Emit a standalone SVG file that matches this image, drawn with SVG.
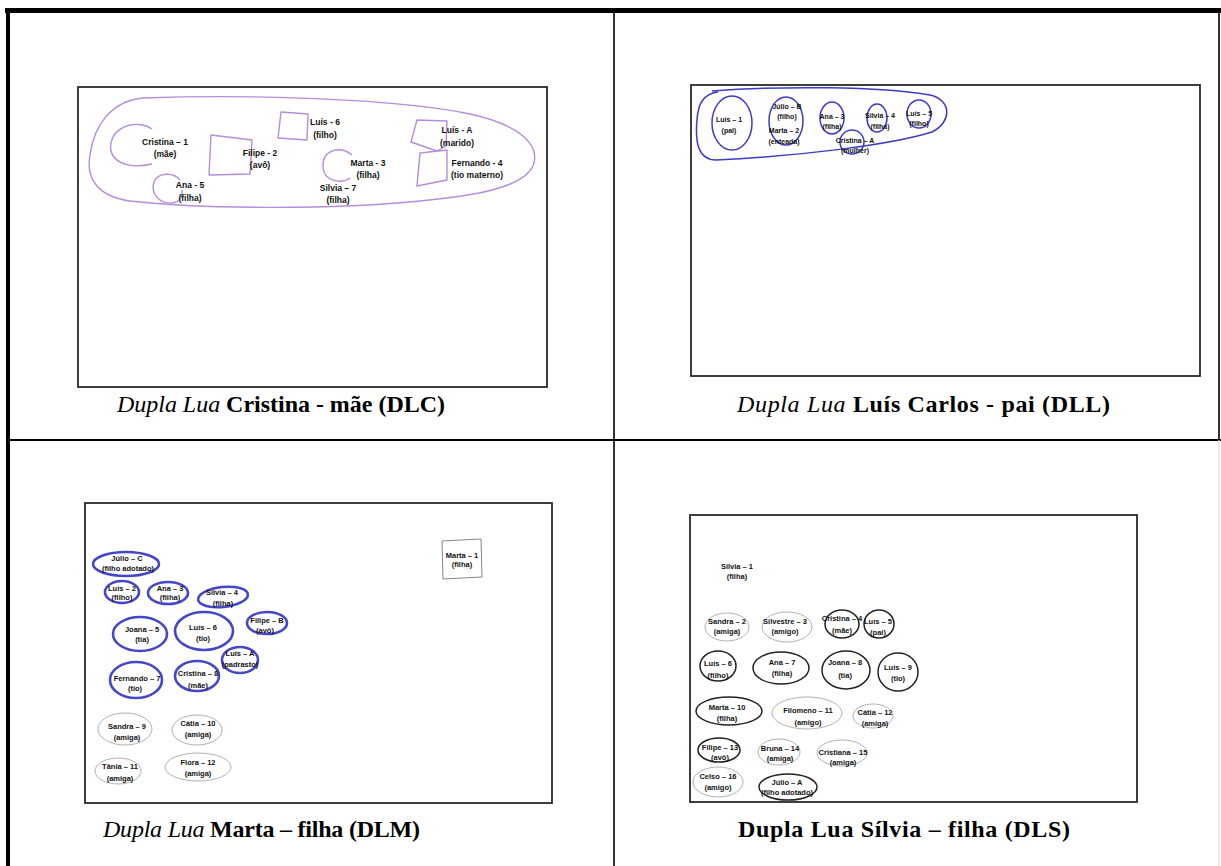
<svg xmlns="http://www.w3.org/2000/svg" width="1221" height="866" viewBox="0 0 1221 866">
<style>
.t{font-family:"Liberation Sans",Arial,sans-serif;font-weight:bold;fill:#111;text-anchor:middle}
.a{font-size:8.5px}
.b{font-size:7px}
.c{font-size:7.5px}
.frame{fill:none;stroke:#2a2a2a;stroke-width:1.8}
.lil{fill:none;stroke:#b48ddb;stroke-width:1.4;stroke-linejoin:round}
.blu{fill:none;stroke:#3c3cc8;stroke-width:1.5}
.blu2{fill:none;stroke:#4646c8;stroke-width:2.6}
.blk{fill:none;stroke:#222;stroke-width:1.5}
.gry{fill:none;stroke:#a8a8a8;stroke-width:0.9}
.cap{font-family:"Liberation Serif","Times New Roman",serif;font-size:24px;font-weight:bold;fill:#000}
.it{font-style:italic;font-weight:normal}
</style>
<rect width="1221" height="866" fill="#fff"/>
<g id="table">
<line x1="5" y1="10.5" x2="1221" y2="10.5" stroke="#000" stroke-width="5"/>
<line x1="8" y1="8" x2="8" y2="866" stroke="#000" stroke-width="4"/>
<line x1="614" y1="12" x2="614" y2="866" stroke="#000" stroke-width="1.6"/>
<line x1="8" y1="440" x2="1221" y2="440" stroke="#000" stroke-width="1.8"/>
<line x1="1219" y1="12" x2="1219" y2="440" stroke="#000" stroke-width="1.6"/>
<line x1="1219" y1="440" x2="1219" y2="866" stroke="#ddd" stroke-width="1.2"/>
</g>

<!-- Panel DLC -->
<g id="panel-dlc">
<rect class="frame" x="78" y="87" width="469" height="300"/>
<path class="lil" d="M142 98 C250 94 400 99 470 114 C520 125 541 145 533 166 C522 189 470 196 420 201 C330 210 200 209 130 201 C95 196 86 176 90 155 C94 126 110 102 142 98 Z"/>
<text class="cap" x="117" y="412" textLength="328"><tspan class="it">Dupla Lua</tspan> Cristina - mãe (DLC)</text>
</g>
<g id="dlc-cristina-1"><path class="lil" d="M152 129 C140 120 115 124 111 143 C108 160 125 170 152 164"/><text class="t a" x="165" y="145">Cristina – 1</text><text class="t a" x="165" y="157">(mãe)</text></g>
<g id="dlc-filipe-2"><path class="lil" d="M211 135 L252 140 L250 174 L209 175 Z"/><text class="t a" x="260" y="156">Filipe - 2</text><text class="t a" x="260" y="168">(avô)</text></g>
<g id="dlc-luis-6"><path class="lil" d="M281 112 L308 114 L307 140 L278 138 Z"/><text class="t a" x="325" y="125">Luís - 6</text><text class="t a" x="325" y="138">(filho)</text></g>
<g id="dlc-ana-5"><path class="lil" d="M180 180 C174 172 158 172 154 182 C150 194 160 204 172 203 C180 202 183 196 182 190"/><text class="t a" x="190" y="188">Ana - 5</text><text class="t a" x="190" y="201">(filha)</text></g>
<g id="dlc-marta-3"><path class="lil" d="M352 155 C340 145 322 150 323 167 C324 182 342 184 350 178"/><text class="t a" x="368" y="166">Marta - 3</text><text class="t a" x="368" y="178">(filha)</text></g>
<g id="dlc-silvia-7"><text class="t a" x="338" y="191">Silvia – 7</text><text class="t a" x="338" y="203">(filha)</text></g>
<g id="dlc-luis-a"><path class="lil" d="M417 120 L447 121 L446 146 L437 151 L411 142 Z"/><text class="t a" x="457" y="133">Luís - A</text><text class="t a" x="457" y="146">(marido)</text></g>
<g id="dlc-fernando-4"><path class="lil" d="M420 153 L447 150 L447 180 L417 186 Z"/><text class="t a" x="477" y="166">Fernando - 4</text><text class="t a" x="477" y="178">(tio materno)</text></g>

<!-- Panel DLL -->
<g id="panel-dll">
<rect class="frame" x="691" y="85" width="509" height="291"/>
<path class="blu" d="M712 91 C780 86 880 86 930 95 C952 100 952 122 932 132 C890 145 800 156 716 160 C698 160 695 142 697 120 C698 104 703 94 718 92"/>
<text class="cap" x="737" y="412" textLength="373"><tspan class="it">Dupla Lua</tspan> Luís Carlos - pai (DLL)</text>
</g>
<g id="dll-luis-1"><ellipse class="blu" cx="732" cy="123" rx="20" ry="27"/><text class="t b" x="729" y="121.5">Luís – 1</text><text class="t b" x="729" y="132.5">(pai)</text></g>
<g id="dll-julio-b-marta-2"><ellipse class="blu" cx="786" cy="121" rx="17" ry="24"/><text class="t b" x="787" y="108.5">Júlio – B</text><text class="t b" x="787" y="118.5">(filho)</text><text class="t b" x="784" y="132.5">Marta – 2</text><text class="t b" x="784" y="143.5">(enteada)</text></g>
<g id="dll-ana-3"><ellipse class="blu" cx="832" cy="118" rx="12" ry="16"/><text class="t b" x="832" y="118.5">Ana – 3</text><text class="t b" x="832" y="128.5">(filha)</text></g>
<g id="dll-cristina-a"><ellipse class="blu" cx="852" cy="142" rx="12" ry="12"/><text class="t b" x="855" y="142.5">Cristina – A</text><text class="t b" x="855" y="152.5">(mulher)</text></g>
<g id="dll-silvia-4"><ellipse class="blu" cx="877" cy="118" rx="10" ry="14"/><text class="t b" x="880" y="117.5">Silvia – 4</text><text class="t b" x="880" y="128.5">(filha)</text></g>
<g id="dll-luis-5"><ellipse class="blu" cx="919" cy="114" rx="12" ry="14"/><text class="t b" x="919" y="115.5">Luís – 5</text><text class="t b" x="919" y="125.5">(filho)</text></g>

<!-- Panel DLM -->
<g id="panel-dlm">
<rect class="frame" x="85" y="503" width="467" height="300"/>
<text class="cap" x="103" y="837" textLength="317"><tspan class="it">Dupla Lua</tspan> Marta – filha (DLM)</text>
</g>
<g id="dlm-marta-1"><path d="M442 541 L481 539 L482 577 L443 579 Z" fill="none" stroke="#777" stroke-width="0.9"/><text class="t c" x="462" y="557.5">Marta – 1</text><text class="t c" x="462" y="566.5">(filha)</text></g>
<g id="dlm-julio-c"><ellipse class="blu2" cx="126" cy="564" rx="33" ry="12"/><text class="t c" x="127" y="560.5">Júlio – C</text><text class="t c" x="128" y="570.5">(filho adotado)</text></g>
<g id="dlm-luis-2"><ellipse class="blu2" cx="122" cy="592" rx="17" ry="11"/><text class="t c" x="122" y="590.5">Luís – 2</text><text class="t c" x="122" y="599.5">(filho)</text></g>
<g id="dlm-ana-3"><ellipse class="blu2" cx="168" cy="593" rx="20" ry="11"/><text class="t c" x="170" y="590.5">Ana – 3</text><text class="t c" x="170" y="599.5">(filha)</text></g>
<g id="dlm-silvia-4"><ellipse class="blu2" cx="223" cy="597" rx="25" ry="10" transform="rotate(-6 223 597)"/><text class="t c" x="222" y="594.5">Sílvia – 4</text><text class="t c" x="223" y="605.5">(filha)</text></g>
<g id="dlm-joana-5"><ellipse class="blu2" cx="140" cy="634" rx="27" ry="17"/><text class="t c" x="142" y="631.5">Joana – 5</text><text class="t c" x="142" y="641.5">(tia)</text></g>
<g id="dlm-luis-6"><ellipse class="blu2" cx="204" cy="631" rx="29" ry="19"/><text class="t c" x="203" y="629.5">Luís – 6</text><text class="t c" x="203" y="640.5">(tio)</text></g>
<g id="dlm-filipe-b"><ellipse class="blu2" cx="267" cy="623" rx="20" ry="11"/><text class="t c" x="267" y="622.5">Filipe – B</text><text class="t c" x="265" y="632.5">(avô)</text></g>
<g id="dlm-luis-a"><ellipse class="blu2" cx="240" cy="660" rx="18" ry="13"/><text class="t c" x="240" y="655.5">Luís – A</text><text class="t c" x="240" y="666.5">(padrasto)</text></g>
<g id="dlm-fernando-7"><ellipse class="blu2" cx="136" cy="680" rx="26" ry="18"/><text class="t c" x="137" y="680.5">Fernando – 7</text><text class="t c" x="135" y="690.5">(tio)</text></g>
<g id="dlm-cristina-8"><ellipse class="blu2" cx="197" cy="676" rx="22" ry="15"/><text class="t c" x="198" y="675.5">Cristina – 8</text><text class="t c" x="198" y="687.5">(mãe)</text></g>
<g id="dlm-sandra-9"><ellipse class="gry" cx="125" cy="729" rx="27" ry="16"/><text class="t c" x="127" y="728.5">Sandra – 9</text><text class="t c" x="127" y="739.5">(amiga)</text></g>
<g id="dlm-catia-10"><ellipse class="gry" cx="197" cy="730" rx="25" ry="15"/><text class="t c" x="198" y="725.5">Cátia – 10</text><text class="t c" x="198" y="736.5">(amiga)</text></g>
<g id="dlm-tania-11"><ellipse class="gry" cx="118" cy="771" rx="23" ry="13"/><text class="t c" x="120" y="768.5">Tânia – 11</text><text class="t c" x="120" y="780.5">(amiga)</text></g>
<g id="dlm-flora-12"><ellipse class="gry" cx="198" cy="767" rx="33" ry="14"/><text class="t c" x="198" y="764.5">Flora – 12</text><text class="t c" x="198" y="775.5">(amiga)</text></g>

<!-- Panel DLS -->
<g id="panel-dls">
<rect class="frame" x="690" y="515" width="447" height="287"/>
<text class="cap" x="738" y="837" textLength="332">Dupla Lua Sílvia – filha (DLS)</text>
</g>
<g id="dls-silvia-1"><text class="t c" x="737" y="568.5">Silvia – 1</text><text class="t c" x="737" y="578.5">(filha)</text></g>
<g id="dls-sandra-2"><ellipse class="gry" cx="727" cy="627" rx="22" ry="14"/><text class="t c" x="727" y="623.5">Sandra – 2</text><text class="t c" x="727" y="633.5">(amiga)</text></g>
<g id="dls-silvestre-3"><ellipse class="gry" cx="787" cy="627" rx="25" ry="15"/><text class="t c" x="785" y="623.5">Silvestre – 3</text><text class="t c" x="785" y="633.5">(amigo)</text></g>
<g id="dls-cristina-4"><ellipse class="blk" cx="842" cy="624" rx="17" ry="14"/><text class="t c" x="842" y="620.5">Cristina – 4</text><text class="t c" x="842" y="632.5">(mãe)</text></g>
<g id="dls-luis-5"><ellipse class="blk" cx="879" cy="624" rx="15" ry="14"/><text class="t c" x="878" y="623.5">Luís – 5</text><text class="t c" x="878" y="634.5">(pai)</text></g>
<g id="dls-luis-6"><ellipse class="blk" cx="718" cy="666" rx="18" ry="15"/><text class="t c" x="718" y="665.5">Luís – 6</text><text class="t c" x="718" y="677.5">(filho)</text></g>
<g id="dls-ana-7"><ellipse class="blk" cx="781" cy="668" rx="28" ry="16"/><text class="t c" x="782" y="664.5">Ana – 7</text><text class="t c" x="782" y="675.5">(filha)</text></g>
<g id="dls-joana-8"><ellipse class="blk" cx="846" cy="670" rx="24" ry="19"/><text class="t c" x="845" y="664.5">Joana – 8</text><text class="t c" x="845" y="677.5">(tia)</text></g>
<g id="dls-luis-9"><ellipse class="blk" cx="898" cy="672" rx="20" ry="19"/><text class="t c" x="898" y="669.5">Luís – 9</text><text class="t c" x="898" y="680.5">(tio)</text></g>
<g id="dls-marta-10"><ellipse class="blk" cx="729" cy="711" rx="33" ry="14"/><text class="t c" x="727" y="709.5">Marta – 10</text><text class="t c" x="727" y="720.5">(filha)</text></g>
<g id="dls-filomeno-11"><ellipse class="gry" cx="807" cy="713" rx="35" ry="16"/><text class="t c" x="808" y="712.5">Filomeno – 11</text><text class="t c" x="808" y="724.5">(amigo)</text></g>
<g id="dls-catia-12"><ellipse class="gry" cx="873" cy="716" rx="20" ry="12"/><text class="t c" x="875" y="714.5">Cátia – 12</text><text class="t c" x="875" y="725.5">(amiga)</text></g>
<g id="dls-filipe-13"><ellipse class="blk" cx="719" cy="750" rx="21" ry="12"/><text class="t c" x="720" y="749.5">Filipe – 13</text><text class="t c" x="720" y="759.5">(avô)</text></g>
<g id="dls-bruna-14"><ellipse class="gry" cx="779" cy="752" rx="21" ry="13"/><text class="t c" x="780" y="750.5">Bruna – 14</text><text class="t c" x="780" y="760.5">(amiga)</text></g>
<g id="dls-cristiana-15"><ellipse class="gry" cx="842" cy="753" rx="25" ry="13"/><text class="t c" x="843" y="754.5">Cristiana – 15</text><text class="t c" x="843" y="764.5">(amiga)</text></g>
<g id="dls-celso-16"><ellipse class="gry" cx="718" cy="782" rx="25" ry="15"/><text class="t c" x="718" y="778.5">Celso – 16</text><text class="t c" x="718" y="789.5">(amigo)</text></g>
<g id="dls-julio-a"><ellipse class="blk" cx="788" cy="787" rx="29" ry="13"/><text class="t c" x="787" y="784.5">Júlio – A</text><text class="t c" x="787" y="794.5">(filho adotado)</text></g>
</svg>
